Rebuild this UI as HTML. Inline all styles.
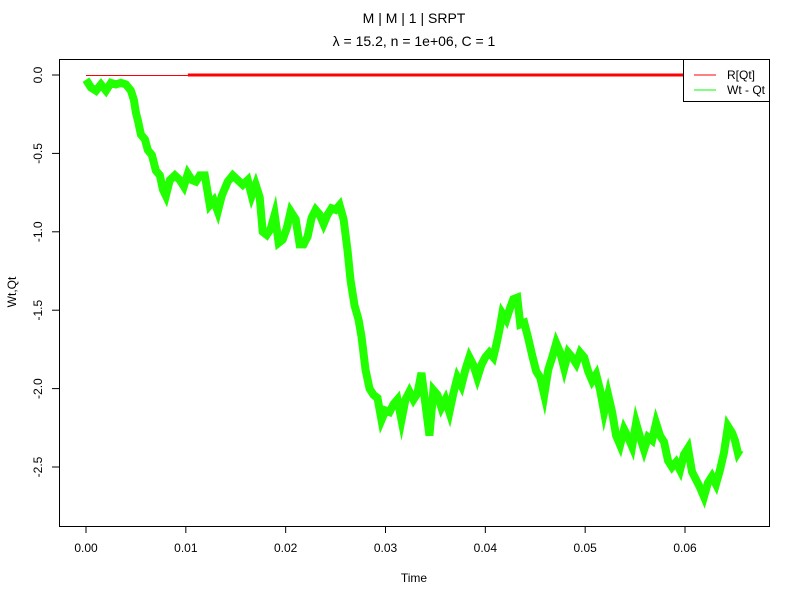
<!DOCTYPE html>
<html><head><meta charset="utf-8"><style>
body{margin:0;background:#fff}
svg text{font-family:"Liberation Sans",Arial,sans-serif;fill:#000}
</style></head><body>
<svg id="chart" width="800" height="600" xmlns="http://www.w3.org/2000/svg">
<text x="414" y="23" font-size="14" text-anchor="middle">M | M | 1 | SRPT</text>
<text x="414" y="46" font-size="14" text-anchor="middle">λ = 15.2, n = 1e+06, C = 1</text>
<rect x="59.5" y="59.5" width="710" height="467" fill="none" stroke="#000" stroke-width="1"/>
<g id="xaxis"></g>
<g id="yaxis"></g>
<g id="series"></g>
<text x="414" y="582" font-size="12" text-anchor="middle">Time</text>
<text transform="translate(16,292) rotate(-90)" font-size="12" text-anchor="middle">Wt,Qt</text>
<g>
<rect x="683.5" y="59.5" width="86" height="42" fill="#fff" stroke="#000"/>
<line x1="694" y1="75" x2="716" y2="75" stroke="#ff0000" stroke-width="1"/>
<text x="727" y="79" font-size="12">R[Qt]</text>
<line x1="694" y1="90" x2="716" y2="90" stroke="#00ff00" stroke-width="1"/>
<text x="727" y="94" font-size="12">Wt - Qt</text>
</g>
</svg>
<script>
const xTicks=[0,0.01,0.02,0.03,0.04,0.05,0.06];
const xTickLabels=["0.00","0.01","0.02","0.03","0.04","0.05","0.06"];
const yTicks=[0,-0.5,-1,-1.5,-2,-2.5];
const yTickLabels=["0.0","-0.5","-1.0","-1.5","-2.0","-2.5"];
const times=[0,.0005,.0010,.0015,.0020,.0025,.0030,.0035,.0040,.0045,.0048,.0050,.0052,.0055,.0059,.0062,.0066,.0070,.0074,.0077,.0080,.0084,.0089,.0094,.0098,.0102,.0106,.0110,.0114,.0119,.0124,.0128,.0132,.0136,.0142,.0147,.0152,.0157,.0162,.0166,.0170,.0174,.0177,.0181,.0185,.0189,.0193,.0197,.0201,.0205,.0210,.0214,.0218,.0222,.0226,.0230,.0234,.0238,.0242,.0246,.0250,.0254,.0258,.0262,.0265,.0269,.0273,.0276,.0280,.0284,.0288,.0292,.0296,.0300,.0304,.0308,.0312,.0316,.0320,.0324,.0328,.0332,.0336,.0340,.0344,.0348,.0352,.0356,.0360,.0364,.0368,.0372,.0376,.0380,.0384,.0388,.0392,.0396,.0400,.0404,.0408,.0411,.0414,.0417,.0421,.0424,.0428,.0432,.0435,.0439,.0443,.0447,.0451,.0455,.0459,.0463,.0467,.0471,.0475,.0479,.0483,.0487,.0491,.0495,.0499,.0503,.0507,.0511,.0515,.0519,.0523,.0527,.0531,.0535,.0539,.0543,.0547,.0551,.0555,.0559,.0563,.0567,.0571,.0575,.0579,.0583,.0587,.0591,.0595,.0599,.0603,.0607,.0611,.0615,.0619,.0623,.0627,.0631,.0635,.0639,.0643,.0647,.0650,.0653,.0655];
const wtMinusQt=[-0.03,-0.08,-0.10,-0.06,-0.10,-0.05,-0.06,-0.05,-0.06,-0.10,-0.16,-0.24,-0.29,-0.38,-0.41,-0.48,-0.51,-0.61,-0.64,-0.73,-0.77,-0.67,-0.64,-0.67,-0.71,-0.63,-0.67,-0.68,-0.64,-0.64,-0.83,-0.80,-0.87,-0.77,-0.68,-0.64,-0.67,-0.70,-0.67,-0.77,-0.70,-0.78,-1.00,-1.02,-0.98,-0.89,-1.07,-1.05,-0.98,-0.87,-0.92,-1.08,-1.08,-1.03,-0.91,-0.86,-0.89,-0.95,-0.89,-0.85,-0.86,-0.83,-0.92,-1.12,-1.31,-1.47,-1.56,-1.67,-1.88,-2.00,-2.04,-2.06,-2.20,-2.14,-2.15,-2.10,-2.07,-2.20,-2.07,-2.02,-2.07,-2.03,-1.90,-2.10,-2.30,-2.01,-2.04,-2.12,-2.07,-2.15,-2.03,-1.93,-1.98,-1.88,-1.80,-1.85,-1.93,-1.85,-1.80,-1.77,-1.80,-1.72,-1.63,-1.52,-1.56,-1.50,-1.43,-1.42,-1.59,-1.58,-1.68,-1.79,-1.89,-1.93,-2.04,-1.88,-1.80,-1.71,-1.77,-1.87,-1.77,-1.80,-1.84,-1.77,-1.80,-1.89,-1.95,-1.91,-2.01,-2.15,-2.04,-2.15,-2.30,-2.36,-2.26,-2.31,-2.37,-2.22,-2.31,-2.39,-2.31,-2.33,-2.22,-2.30,-2.34,-2.46,-2.50,-2.47,-2.52,-2.42,-2.38,-2.53,-2.58,-2.63,-2.69,-2.60,-2.56,-2.61,-2.52,-2.41,-2.24,-2.28,-2.33,-2.41,-2.39];
const rTimes=[0,0.0102,0.0102,0.0683];
const rValues=[0,0,0,0];

const NS="http://www.w3.org/2000/svg";
const xs=t=>86+t*(685-86)/0.06;
const ys=v=>75+(-v)*(467-75)/2.5;
function mk(tag,attrs,parent){const e=document.createElementNS(NS,tag);for(const k in attrs)e.setAttribute(k,attrs[k]);parent.appendChild(e);return e;}

const xa=document.getElementById('xaxis');
const xl=mk('line',{x1:xs(xTicks[0]),y1:526.5,x2:xs(xTicks[xTicks.length-1]),y2:526.5,stroke:'#000'},xa);


xTicks.forEach((t,i)=>{
  const l=mk('line',{x1:xs(t),y1:526,x2:xs(t),y2:533,stroke:'#000'},xa);
  
  
  const tx=mk('text',{x:xs(t),y:552,'font-size':12,'text-anchor':'middle'},xa);
  tx.textContent=xTickLabels[i];
  
  
});
const ya=document.getElementById('yaxis');
const yl=mk('line',{x1:59.5,y1:ys(yTicks[0]),x2:59.5,y2:ys(yTicks[yTicks.length-1]),stroke:'#000'},ya);


yTicks.forEach((v,i)=>{
  const l=mk('line',{x1:52,y1:ys(v),x2:59,y2:ys(v),stroke:'#000'},ya);
  
  
  const tx=mk('text',{transform:`translate(42,${ys(v)}) rotate(-90)`,'font-size':12,'text-anchor':'middle'},ya);
  tx.textContent=yTickLabels[i];
  
  
});
const sg=document.getElementById('series');
const gp=mk('polyline',{points:times.map((t,i)=>xs(t)+','+ys(wtMinusQt[i])).join(' '),fill:'none',stroke:'#22ff00','stroke-width':8,'stroke-linejoin':'miter','stroke-miterlimit':6},sg);


const r1=mk('line',{x1:xs(rTimes[0]),y1:ys(rValues[0])+0.5,x2:xs(rTimes[1]),y2:ys(rValues[1])+0.5,stroke:'#ff0000','stroke-width':1},sg);


const r2=mk('line',{x1:xs(rTimes[2]),y1:ys(rValues[2]),x2:xs(rTimes[3]),y2:ys(rValues[3]),stroke:'#ff0000','stroke-width':3},sg);


</script>
</body></html>
